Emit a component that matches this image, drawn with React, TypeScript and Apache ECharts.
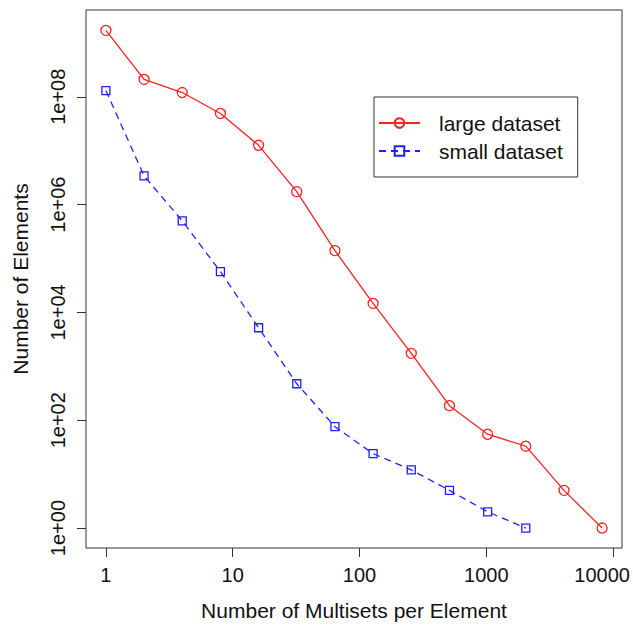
import React, { useEffect, useRef } from "react";
import * as echarts from "echarts";

const multisetsLarge = [1, 2, 4, 8, 16, 32, 64, 128, 256, 512, 1024, 2048, 4096, 8192];
const elementsLarge = [1.7e9, 2.1e8, 1.2e8, 4.9e7, 1.26e7, 1.74e6, 1.4e5, 1.47e4, 1740, 186, 55, 33, 5, 1];
const multisetsSmall = [1, 2, 4, 8, 16, 32, 64, 128, 256, 512, 1024, 2048];
const elementsSmall = [1.3e8, 3.4e6, 5.0e5, 5.7e4, 5200, 475, 76, 24, 12, 5, 2, 1];
const xTicks = [1, 10, 100, 1000, 10000];
const yTicks = [1, 1e2, 1e4, 1e6, 1e8];
const seriesNames = ["large dataset", "small dataset"];

const FONT = "Liberation Sans, Arial, Helvetica, sans-serif";

function fmtY(v: number): string {
  const e = Math.round(Math.log10(v));
  return "1e+" + (e < 10 ? "0" + e : String(e));
}

export default function App() {
  const ref = useRef<HTMLDivElement>(null);
  useEffect(() => {
    if (!ref.current) return;
    const chart = echarts.init(ref.current, undefined, { renderer: "svg" });
    const axisColor = "#333";
    const lastX = xTicks[xTicks.length - 1];
    chart.setOption({
      animation: false,
      backgroundColor: "#fff",
      grid: {
        left: 86,
        top: 10,
        right: 11,
        bottom: 77,
        containLabel: false,
        outerBoundsMode: "none",
        show: true,
        borderColor: axisColor,
        borderWidth: 1,
        backgroundColor: "transparent",
      },
      legend: {
        orient: "vertical",
        left: 374,
        top: 97,
        padding: [15, 15, 15, 4],
        itemWidth: 41,
        itemHeight: 12,
        itemGap: 6,
        borderColor: axisColor,
        borderWidth: 1,
        data: seriesNames,
        textStyle: {
          fontFamily: FONT,
          fontSize: 21,
          lineHeight: 22,
          color: "#111",
          padding: [0, 0, 0, 14],
        },
      },
      xAxis: {
        type: "log",
        logBase: 10,
        min: Math.pow(10, -0.157),
        max: Math.pow(10, 4.07),
        name: "Number of Multisets per Element",
        nameLocation: "middle",
        nameGap: 52,
        nameTextStyle: { fontFamily: FONT, fontSize: 21, color: "#111" },
        axisLine: { show: false },
        splitLine: { show: false },
        minorTick: { show: false },
        axisTick: {
          show: true,
          length: 9,
          customValues: xTicks,
          lineStyle: { color: axisColor, width: 1 },
        },
        axisLabel: {
          customValues: xTicks,
          margin: 17,
          fontFamily: FONT,
          fontSize: 20,
          color: "#111",
          formatter: (v: number) => {
            const s = String(Math.round(v));
            return Math.round(v) === lastX ? "{edge|" + s + "}" : s;
          },
          rich: {
            edge: {
              fontFamily: FONT,
              fontSize: 20,
              color: "#111",
              padding: [0, 22, 0, 0],
            },
          },
        },
      },
      yAxis: {
        type: "log",
        logBase: 10,
        min: Math.pow(10, -0.37),
        max: Math.pow(10, 9.61),
        name: "Number of Elements",
        nameLocation: "middle",
        nameGap: 55,
        nameTextStyle: { fontFamily: FONT, fontSize: 21, color: "#111" },
        axisLine: { show: false },
        splitLine: { show: false },
        minorTick: { show: false },
        axisTick: {
          show: true,
          length: 9,
          customValues: yTicks,
          lineStyle: { color: axisColor, width: 1 },
        },
        axisLabel: {
          customValues: yTicks,
          rotate: 90,
          margin: 18,
          fontFamily: FONT,
          fontSize: 20,
          color: "#111",
          formatter: (v: number) => fmtY(v),
        },
      },
      series: [
        {
          name: seriesNames[0],
          type: "line",
          data: multisetsLarge.map((x, i) => [x, elementsLarge[i]]),
          symbol: "circle",
          symbolSize: 10,
          showAllSymbol: true,
          color: "#ff2020",
          lineStyle: { color: "#ff2020", width: 1.3, type: "solid" },
          itemStyle: { color: "rgba(0,0,0,0)", borderColor: "#ff2020", borderWidth: 1.3 },
          z: 2,
        },
        {
          name: seriesNames[1],
          type: "line",
          data: multisetsSmall.map((x, i) => [x, elementsSmall[i]]),
          symbol: "rect",
          symbolSize: 8,
          showAllSymbol: true,
          color: "#2020ff",
          lineStyle: { color: "#2020ff", width: 1.3, type: [7, 5] },
          itemStyle: { color: "rgba(0,0,0,0)", borderColor: "#2020ff", borderWidth: 1.3 },
          z: 2,
        },
      ],
    });
    return () => chart.dispose();
  }, []);
  return (
    <div
      ref={ref}
      style={{ position: "fixed", left: 0, top: 0, width: 633, height: 625, background: "#fff" }}
    />
  );
}
